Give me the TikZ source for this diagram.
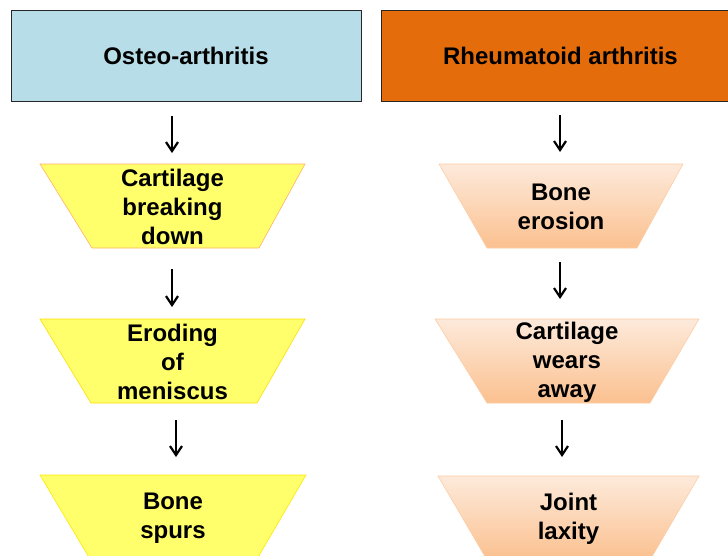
\documentclass[tikz,border=0pt]{standalone}
\usepackage{fontspec}
\setmainfont{Liberation Sans}
\usetikzlibrary{arrows.meta}
\definecolor{hblue}{HTML}{B7DDE8}
\definecolor{horange}{HTML}{E46C0A}
\definecolor{tyellow}{HTML}{FFFF6B}
\definecolor{pTop}{HTML}{FDEADB}
\definecolor{pBot}{HTML}{FBC08F}
\tikzset{
  bigtext/.style={font=\fontsize{24}{29}\bfseries\selectfont},
  hdr/.style={draw=black!85,line width=1pt,minimum height=91pt,inner sep=0pt},
  ytrap/.style={fill=tyellow,draw=#1,line width=0.6pt},
  ptrap/.style={top color=pTop,bottom color=pBot,draw=pBot!80,line width=0.6pt},
  ttext/.style={bigtext,align=center,inner sep=0pt},
  arr/.style={line width=2.2pt,-{Straight Barb[length=9pt,width=12pt,line width=2.2pt]}}
}
\begin{document}
\begin{tikzpicture}[x=1pt,y=-1pt]
\useasboundingbox (0,0) rectangle (728,555);
\begin{scope}
\clip (0,0) rectangle (728,555);
% headers
\node[hdr,fill=hblue,minimum width=350pt] (hL) at (186,55.5) {};
\node[bigtext] (hLt) at (186,55.5) {Osteo-arthritis};
\node[hdr,fill=horange,minimum width=352pt] (hR) at (557,55.5) {};
\node[bigtext] (hRt) at (560.5,55.5) {Rheumatoid arthritis};
% left column shapes
\path[ytrap=orange!60] (40,164) -- (305,164) -- (259,248) -- (92,248) -- cycle;
\path[ytrap=yellow!80!orange] (40,319) -- (305,319) -- (257,403) -- (91,403) -- cycle;
\path[ytrap=yellow!90!orange] (40,475) -- (306,475) -- (257,559) -- (90,559) -- cycle;
% right column shapes
\path[ptrap] (439,164) -- (683,164) -- (637,248) -- (487,248) -- cycle;
\path[ptrap] (435,319) -- (699,319) -- (650,403) -- (487,403) -- cycle;
\path[ptrap] (438,476) -- (699,476) -- (650,560) -- (487,560) -- cycle;
\end{scope}
% texts
\node[ttext] (L1t) at (172.5,207) {Cartilage\\breaking\\down};
\node[ttext] (L2t) at (172.5,362) {Eroding\\of\\meniscus};
\node[ttext] (L3t) at (173,518) {Bone\\spurs};
\node[ttext] (R1t) at (561,207) {Bone\\erosion};
\node[ttext] (R2t) at (567,362) {Cartilage\\wears\\away};
\node[ttext] (R3t) at (568.5,519) {Joint\\laxity};
% arrow ends
\coordinate (aL1s) at (172,116); \coordinate (aL1e) at (172,153);
\coordinate (aL2s) at (172,269); \coordinate (aL2e) at (172,307);
\coordinate (aL3s) at (176,420); \coordinate (aL3e) at (176,457);
\coordinate (aR1s) at (560,115); \coordinate (aR1e) at (560,152);
\coordinate (aR2s) at (560,262); \coordinate (aR2e) at (560,299);
\coordinate (aR3s) at (562,420); \coordinate (aR3e) at (562,457);
\draw[arr] (aL1s) -- (aL1e);
\draw[arr] (aL2s) -- (aL2e);
\draw[arr] (aL3s) -- (aL3e);
\draw[arr] (aR1s) -- (aR1e);
\draw[arr] (aR2s) -- (aR2e);
\draw[arr] (aR3s) -- (aR3e);
\end{tikzpicture}
\end{document}
